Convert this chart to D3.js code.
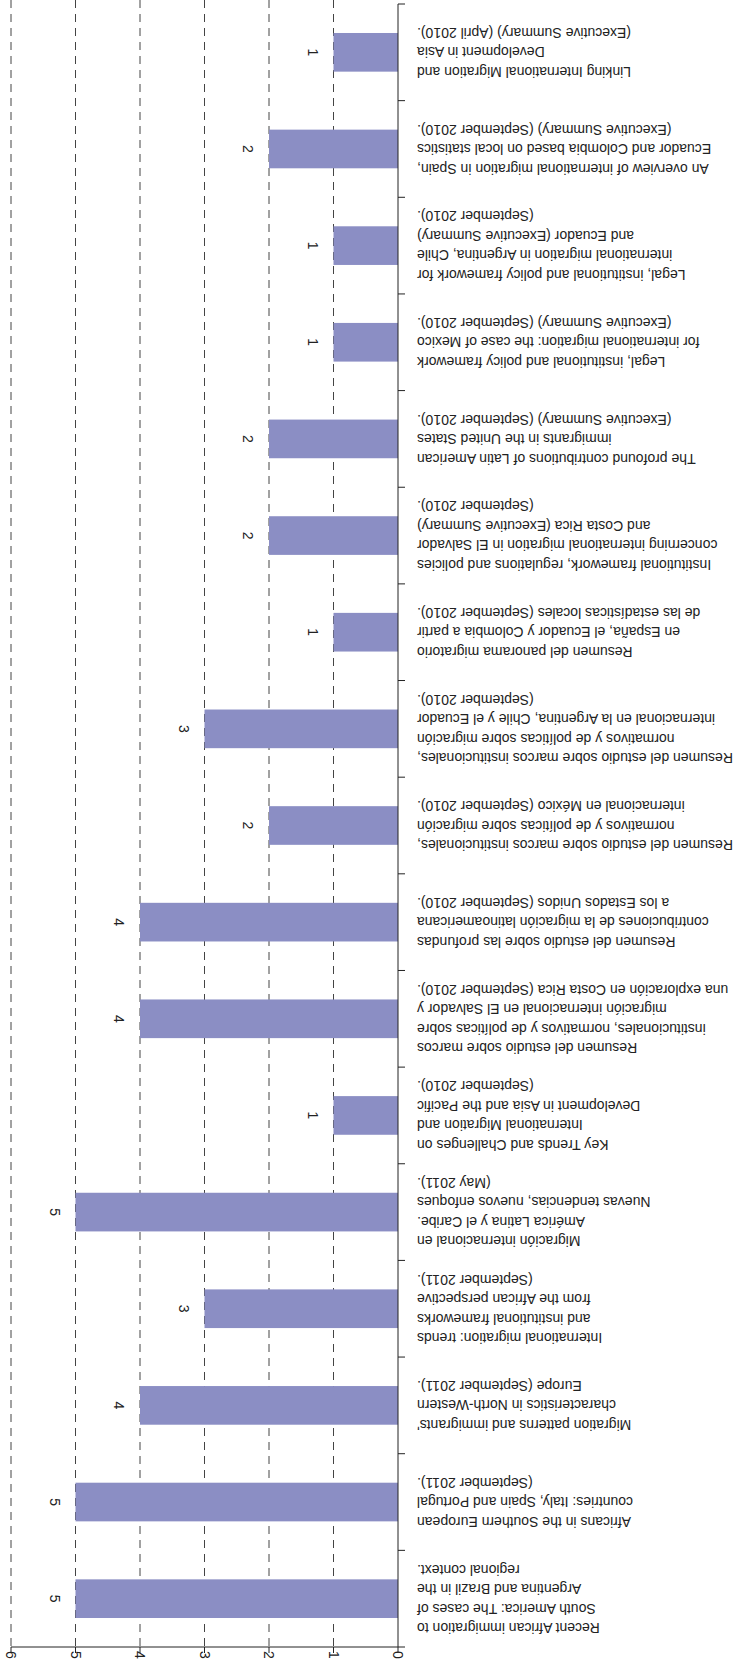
<!DOCTYPE html>
<meta charset="utf-8">
<style>

body {
  margin: 0;
  background: #fff;
}

.bar {
  fill: #8b8ec4;
}

.grid line {
  stroke: #444;
  stroke-dasharray: 8,6;
}

.label, .tick-label, .value {
  font: 14px "Liberation Sans", Arial, sans-serif;
  fill: #222;
}

</style>
<div id="chart"></div>
<script src="https://cdnjs.cloudflare.com/ajax/libs/d3/7.8.5/d3.min.js"></script>
<script>

// categories, in the chart's own (upright) order
var categories = [
  ["Recent African immigration to", "South America: The cases of", "Argentina and Brazil in the", "regional context."],
  ["Africans in the Southern European", "countries: Italy, Spain and Portugal", "(September 2011)."],
  ["Migration patterns and immigrants'", "characteristics in North-Western", "Europe (September 2011)."],
  ["International migration: trends", "and institutional frameworks", "from the African perspective", "(September 2011)."],
  ["Migración internacional en", "América Latina y el Caribe.", "Nuevas tendencias, nuevos enfoques", "(May 2011)."],
  ["Key Trends and Challenges on", "International Migration and", "Development in Asia and the Pacific", "(September 2010)."],
  ["Resumen del estudio sobre marcos", "institucionales, normativos y de políticas sobre", "migración internacional en El Salvador y", "una exploración en Costa Rica (September 2010)."],
  ["Resumen del estudio sobre las profundas", "contribuciones de la migración latinoamericana", "a los Estados Unidos (September 2010)."],
  ["Resumen del estudio sobre marcos institucionales,", "normativos y de políticas sobre migración", "internacional en México (September 2010)."],
  ["Resumen del estudio sobre marcos institucionales,", "normativos y de políticas sobre migración", "internacional en la Argentina, Chile y el Ecuador", "(September 2010)."],
  ["Resumen del panorama migratorio", "en España, el Ecuador y Colombia a partir", "de las estadísticas locales (September 2010)."],
  ["Institutional framework, regulations and policies", "concerning international migration in El Salvador", "and Costa Rica (Executive Summary)", "(September 2010)."],
  ["The profound contributions of Latin American", "immigrants in the United States", "(Executive Summary) (September 2010)."],
  ["Legal, institutional and policy framework", "for international migration: the case of Mexico", "(Executive Summary) (September 2010)."],
  ["Legal, institutional and policy framework for", "international migration in Argentina, Chile", "and Ecuador (Executive Summary)", "(September 2010)."],
  ["An overview of international migration in Spain,", "Ecuador and Colombia based on local statistics", "(Executive Summary) (September 2010)."],
  ["Linking International Migration and", "Development in Asia", "(Executive Summary) (April 2010)."]
];

var values = [5, 5, 4, 3, 5, 1, 4, 4, 2, 3, 1, 2, 2, 1, 1, 2, 1];

var ticks = [0, 1, 2, 3, 4, 5, 6];

var data = categories.map(function(c, i) { return {id: i, lines: c, value: values[i]}; });

// the whole picture is shown turned half a turn
var svg = d3.select("#chart").append("svg")
    .attr("width", 739)
    .attr("height", 1664),
    axisX = 398,
    axisY = 1647,
    lineH = 19.5;

var x = d3.scaleLinear()
    .domain([0, 6])
    .range([axisX, 11]);

var y = d3.scaleBand()
    .domain(data.map(function(d) { return d.id; }))
    .range([axisY, 4])
    .paddingInner(0.6)
    .paddingOuter(0.3);

var step = y.step();

// gridlines
svg.append("g")
    .attr("class", "grid")
  .selectAll("line")
  .data(ticks.slice(1))
  .enter().append("line")
    .attr("x1", function(d) { return x(d); })
    .attr("x2", function(d) { return x(d); })
    .attr("y1", 0)
    .attr("y2", axisY);

// bars
svg.selectAll(".bar")
  .data(data)
  .enter().append("rect")
    .attr("class", "bar")
    .attr("x", function(d) { return x(d.value); })
    .attr("y", function(d) { return y(d.id); })
    .attr("width", function(d) { return x(0) - x(d.value); })
    .attr("height", y.bandwidth());

// value labels
svg.selectAll(".value")
  .data(data)
  .enter().append("text")
    .attr("class", "value")
    .attr("transform", function(d) { return "translate(" + (x(d.value) - 21) + "," + (y(d.id) + y.bandwidth() / 2) + ") rotate(90)"; })
    .attr("text-anchor", "middle")
    .attr("dy", "0.35em")
    .text(function(d) { return d.value; });

// value axis
var vAxis = svg.append("g");
vAxis.append("line")
    .attr("x1", x(6)).attr("x2", x(0))
    .attr("y1", axisY).attr("y2", axisY)
    .attr("stroke", "#222");
vAxis.selectAll(".tk")
  .data(ticks)
  .enter().append("line")
    .attr("x1", function(d) { return x(d); })
    .attr("x2", function(d) { return x(d); })
    .attr("y1", axisY)
    .attr("y2", axisY + 6)
    .attr("stroke", "#222");
vAxis.selectAll(".tick-label")
  .data(ticks)
  .enter().append("text")
    .attr("class", "tick-label")
    .attr("transform", function(d) { return "translate(" + x(d) + "," + (axisY + 4) + ") rotate(90)"; })
    .attr("dy", "0.35em")
    .text(function(d) { return d; });

// category axis
var bounds = data.map(function(d) { return y(d.id) + y.bandwidth() / 2 + step / 2; });
bounds.push(y(data[data.length - 1].id) + y.bandwidth() / 2 - step / 2);

var cAxis = svg.append("g");
cAxis.append("line")
    .attr("x1", axisX).attr("x2", axisX)
    .attr("y1", d3.min(bounds)).attr("y2", axisY)
    .attr("stroke", "#222");
cAxis.selectAll(".tk")
  .data(bounds)
  .enter().append("line")
    .attr("x1", axisX)
    .attr("x2", axisX + 7)
    .attr("y1", function(d) { return d; })
    .attr("y2", function(d) { return d; })
    .attr("stroke", "#222");

var label = svg.selectAll(".label")
  .data(data)
  .enter().append("text")
    .attr("class", "label")
    .attr("text-anchor", "end")
    .attr("transform", function(d) { return "translate(417," + (y(d.id) + y.bandwidth() / 2) + ") rotate(180)"; });

label.selectAll("tspan")
  .data(function(d) { return d.lines.map(function(l, i) { return {t: l, i: i, n: d.lines.length}; }); })
  .enter().append("tspan")
    .attr("x", 0)
    .attr("y", function(d) { return (d.i - (d.n - 1) / 2) * lineH; })
    .attr("dy", "0.35em")
    .text(function(d) { return d.t; });

</script>
